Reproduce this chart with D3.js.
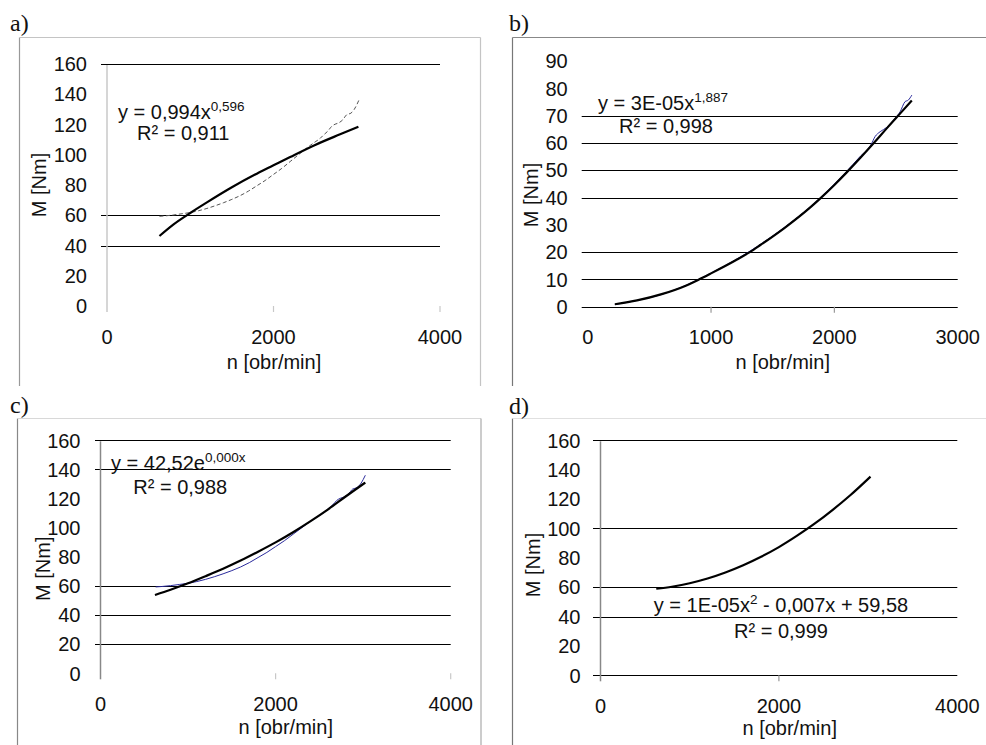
<!DOCTYPE html>
<html>
<head>
<meta charset="utf-8">
<script src="https://cdn.jsdelivr.net/npm/d3@7"></script>
<style>
  html, body { margin: 0; padding: 0; background: #fff; }
  svg { display: block; font-family: "Liberation Sans", Arial, sans-serif; }
</style>
</head>
<body>
<svg id="fig" width="986" height="745"></svg>
<script>
// ---------- data ----------
// shared axis ticks
const yTicksTorque = [0, 20, 40, 60, 80, 100, 120, 140, 160];
const yTicksTorqueB = [0, 10, 20, 30, 40, 50, 60, 70, 80, 90];
const xTicksSpeed = [0, 2000, 4000];
const xTicksSpeedB = [0, 1000, 2000, 3000];

// horizontal gridlines drawn in each panel
const gridA = [40, 60, 160];
const gridB = [0, 10, 20, 40, 50, 60, 70];
const gridC = [20, 40, 60, 140, 160];
const gridD = [0, 40, 60, 100, 160];

// small tick marks under the x axis
const xMarksA = [2000, 4000];
const xMarksB = [1000, 2000];
const xMarksC = [2000, 4000];
const xMarksD = [2000];

// measured torque curve M(n) (panels a and c)
const measN = [630, 700, 800, 900, 1000, 1100, 1200, 1300, 1400, 1500, 1600, 1700, 1800, 1900, 2000, 2100, 2200, 2300, 2400, 2500, 2560, 2600, 2650, 2700, 2740, 2780, 2830, 2880, 2930, 2970, 3000, 3025];
const measM = [59.3, 59.6, 60.2, 61, 61.8, 63, 64.5, 66.3, 68.3, 70.5, 73, 76, 79.5, 83, 87, 91, 95.5, 100, 104.5, 108.5, 110.8, 113, 115.5, 118.8, 120.2, 121, 123, 126.5, 127.5, 130, 133, 136];

// a) power trend line
const fitAN = [630, 800, 1000, 1200, 1500, 1800, 2000, 2200, 2500, 2800, 3020];
const fitAM = [46.3, 54, 61.5, 68.5, 78.5, 87.5, 93, 98.5, 106.5, 113.5, 118.5];

// b) measured curve and power trend line
const measBN = [220, 400, 600, 800, 1000, 1200, 1400, 1600, 1800, 2000, 2100, 2200, 2300, 2330, 2371, 2425, 2492, 2533, 2573, 2600, 2628];
const measBM = [0.8, 2.3, 4.5, 7.9, 12.3, 17.2, 22.8, 29.2, 36.4, 44.9, 49.6, 54.6, 59.6, 62.3, 64.1, 65.7, 69, 71.4, 75.1, 75.7, 77.5];
const fitBN = [220, 400, 600, 800, 895, 1000, 1200, 1314, 1400, 1600, 1800, 1884, 2000, 2100, 2200, 2325, 2430, 2538, 2628];
const fitBM = [0.9, 2.3, 4.6, 7.8, 9.8, 12.2, 17, 20, 22.6, 29, 36.2, 39.6, 44.6, 49.2, 54, 60.2, 65.6, 71, 75.5];

// c) exponential trend line
const fitCN = [622, 800, 1000, 1200, 1400, 1600, 1800, 2000, 2200, 2400, 2600, 2800, 3025];
const fitCM = [53.8, 57.4, 61.8, 66.7, 71.8, 77.4, 83.5, 89.9, 96.9, 104.5, 112.6, 121.4, 131];

// d) polynomial trend line
const fitDN = [625, 800, 1000, 1200, 1400, 1600, 1800, 2000, 2200, 2400, 2600, 2800, 3027];
const fitDM = [59, 60.3, 62.7, 65.9, 70, 74.9, 80.7, 87.3, 94.9, 103.2, 112.5, 122.6, 135.3];

// labels
const panelLetters = ["a)", "b)", "c)", "d)"];
const xTitle = "n [obr/min]";
const yTitle = "M [Nm]";
const eqA = ["y = 0,994x", "0,596"];
const eqB = ["y = 3E-05x", "1,887"];
const eqC = ["y = 42,52e", "0,000x"];
const eqD = ["y = 1E-05x", "2", " - 0,007x + 59,58"];
const r2A = "R² = 0,911";
const r2B = "R² = 0,998";
const r2C = "R² = 0,988";
const r2D = "R² = 0,999";

// ---------- drawing ----------
const svg = d3.select("#fig");
const FS = 20;
const zip = (xs, ys) => xs.map((v, i) => [v, ys[i]]);

function drawPanel(p) {
  const g = svg.append("g");
  const x = d3.scaleLinear().domain(p.xDomain).range(p.xRange);
  const y = d3.scaleLinear().domain(p.yDomain).range(p.yRange);
  const x0 = x(0), y0 = y(0);

  // frame
  const f = p.frame;
  g.append("line").attr("x1", f.left).attr("x2", f.left).attr("y1", f.top).attr("y2", f.bottom)
    .attr("stroke", f.leftColor).attr("stroke-width", 1.2);
  g.append("line").attr("x1", f.left).attr("x2", f.right).attr("y1", f.top).attr("y2", f.top)
    .attr("stroke", f.topColor).attr("stroke-width", 1.2);
  if (f.rightColor) {
    g.append("line").attr("x1", f.right).attr("x2", f.right).attr("y1", f.top).attr("y2", f.bottom)
      .attr("stroke", f.rightColor).attr("stroke-width", 1.2);
  }

  // letter
  g.append("text").attr("x", p.letterPos[0]).attr("y", p.letterPos[1])
    .attr("font-family", "'Liberation Serif','Times New Roman',serif")
    .attr("font-size", 24).attr("fill", "#111").text(p.letter);

  // gridlines
  g.selectAll(".grid").data(p.grid).enter().append("line")
    .attr("x1", x0 - p.gridExt).attr("x2", x(p.xDomain[1]))
    .attr("y1", d => Math.round(y(d)) + 0.5).attr("y2", d => Math.round(y(d)) + 0.5)
    .attr("stroke", "#000").attr("stroke-width", 1.1);

  // y axis line
  if (p.axisColor) {
    g.append("line").attr("x1", x0).attr("x2", x0)
      .attr("y1", y(p.yDomain[1]) + 1).attr("y2", y0 + 6)
      .attr("stroke", p.axisColor).attr("stroke-width", 1.5);
  }
  // x tick marks
  g.selectAll(".xm").data(p.xMarks).enter().append("line")
    .attr("x1", d => x(d)).attr("x2", d => x(d))
    .attr("y1", y0).attr("y2", y0 + 6)
    .attr("stroke", p.tickColor).attr("stroke-width", 1.2);

  // y tick labels
  g.selectAll(".yl").data(p.yTicks).enter().append("text")
    .attr("x", x0 - 20).attr("y", d => y(d)).attr("dy", "0.36em")
    .attr("text-anchor", "end").attr("font-size", FS).attr("fill", "#111")
    .text(d => d);
  // x tick labels
  g.selectAll(".xl").data(p.xTicks).enter().append("text")
    .attr("x", d => x(d)).attr("y", y0 + 37.5)
    .attr("text-anchor", "middle").attr("font-size", FS).attr("fill", "#111")
    .text(d => d);

  // axis titles
  g.append("text").attr("x", p.xTitlePos[0]).attr("y", p.xTitlePos[1])
    .attr("text-anchor", "middle").attr("font-size", FS).attr("fill", "#111").text(xTitle);
  g.append("text")
    .attr("transform", `translate(${p.yTitlePos[0]},${p.yTitlePos[1]}) rotate(-90)`)
    .attr("dy", "0.36em").attr("text-anchor", "middle").attr("font-size", FS)
    .attr("fill", "#111").text(yTitle);

  // series
  const line = d3.line().x(d => x(d[0])).y(d => y(d[1])).curve(d3.curveMonotoneX);
  p.series.forEach(s => {
    g.append("path").attr("d", line(zip(s.n, s.m)))
      .attr("fill", "none").attr("stroke", s.color).attr("stroke-width", s.width)
      .attr("stroke-dasharray", s.dash || null).attr("stroke-linejoin", "round");
  });

  // trend equation
  const eq = g.append("text").attr("x", p.eqPos[0]).attr("y", p.eqPos[1])
    .attr("font-size", FS).attr("fill", "#111")
    .attr("text-anchor", p.eqAnchor || "start");
  eq.append("tspan").text(p.eq[0]);
  eq.append("tspan").attr("font-size", 13.5).attr("dy", -8).text(p.eq[1]);
  if (p.eq[2]) eq.append("tspan").attr("dy", 8).text(p.eq[2]);
  g.append("text").attr("x", p.r2Pos[0]).attr("y", p.r2Pos[1])
    .attr("font-size", FS).attr("fill", "#111")
    .attr("text-anchor", p.eqAnchor || "start").text(p.r2);
}

const panels = [
  {
    letter: panelLetters[0], letterPos: [10, 31],
    frame: { left: 19.5, right: 480.5, top: 37.5, bottom: 386, leftColor: "#999", topColor: "#c4c4c4", rightColor: "#c4c4c4" },
    xDomain: [0, 4000], xRange: [107, 440], yDomain: [0, 160], yRange: [306, 64],
    grid: gridA, gridExt: 6, axisColor: "#c8c8c8", tickColor: "#c8c8c8", xMarks: xMarksA,
    yTicks: yTicksTorque, xTicks: xTicksSpeed,
    xTitlePos: [274, 369], yTitlePos: [39, 185],
    eq: eqA, eqPos: [118, 118.5], r2: r2A, r2Pos: [137, 139.5],
    series: [
      { n: measN, m: measM, color: "#555", width: 1, dash: "4,2.5" },
      { n: fitAN, m: fitAM, color: "#000", width: 2.2 }
    ]
  },
  {
    letter: panelLetters[1], letterPos: [509, 31],
    frame: { left: 512.5, right: 986, top: 37.5, bottom: 386, leftColor: "#777", topColor: "#888" },
    xDomain: [0, 3000], xRange: [587.7, 957.7], yDomain: [0, 90], yRange: [306.7, 61],
    grid: gridB, gridExt: 6, axisColor: null, tickColor: "#999", xMarks: xMarksB,
    yTicks: yTicksTorqueB, xTicks: xTicksSpeedB,
    xTitlePos: [782.7, 368.5], yTitlePos: [531, 195],
    eq: eqB, eqPos: [598, 110], r2: r2B, r2Pos: [619, 133],
    series: [
      { n: measBN, m: measBM, color: "#2a2a9c", width: 1 },
      { n: fitBN, m: fitBM, color: "#000", width: 2.2 }
    ]
  },
  {
    letter: panelLetters[2], letterPos: [10, 413],
    frame: { left: 17.5, right: 481, top: 418.5, bottom: 745, leftColor: "#888", topColor: "#d8d8d8", rightColor: "#aaa" },
    xDomain: [0, 4000], xRange: [100.5, 450.7], yDomain: [0, 160], yRange: [673.3, 440.3],
    grid: gridC, gridExt: 5.5, axisColor: "#888", tickColor: "#c8c8c8", xMarks: xMarksC,
    yTicks: yTicksTorque, xTicks: xTicksSpeed,
    xTitlePos: [285.7, 733.5], yTitlePos: [42.5, 568.7],
    eq: eqC, eqPos: [111, 470.3], r2: r2C, r2Pos: [133.3, 493.5],
    series: [
      { n: measN, m: measM, color: "#2a2a9c", width: 1 },
      { n: fitCN, m: fitCM, color: "#000", width: 2.2 }
    ]
  },
  {
    letter: panelLetters[3], letterPos: [509, 413.5],
    frame: { left: 512.5, right: 986, top: 418.5, bottom: 745, leftColor: "#777", topColor: "#e0e0e0" },
    xDomain: [0, 4000], xRange: [600.5, 957.3], yDomain: [0, 160], yRange: [675.3, 440.3],
    grid: gridD, gridExt: 7.5, axisColor: "#888", tickColor: "#999", xMarks: xMarksD,
    yTicks: yTicksTorque, xTicks: xTicksSpeed,
    xTitlePos: [789.7, 735], yTitlePos: [533, 565],
    eq: eqD, eqPos: [781, 612], eqAnchor: "middle", r2: r2D, r2Pos: [781, 637.5],
    series: [
      { n: fitDN, m: fitDM, color: "#000", width: 2.2 }
    ]
  }
];

panels.forEach(drawPanel);
</script>
</body>
</html>
